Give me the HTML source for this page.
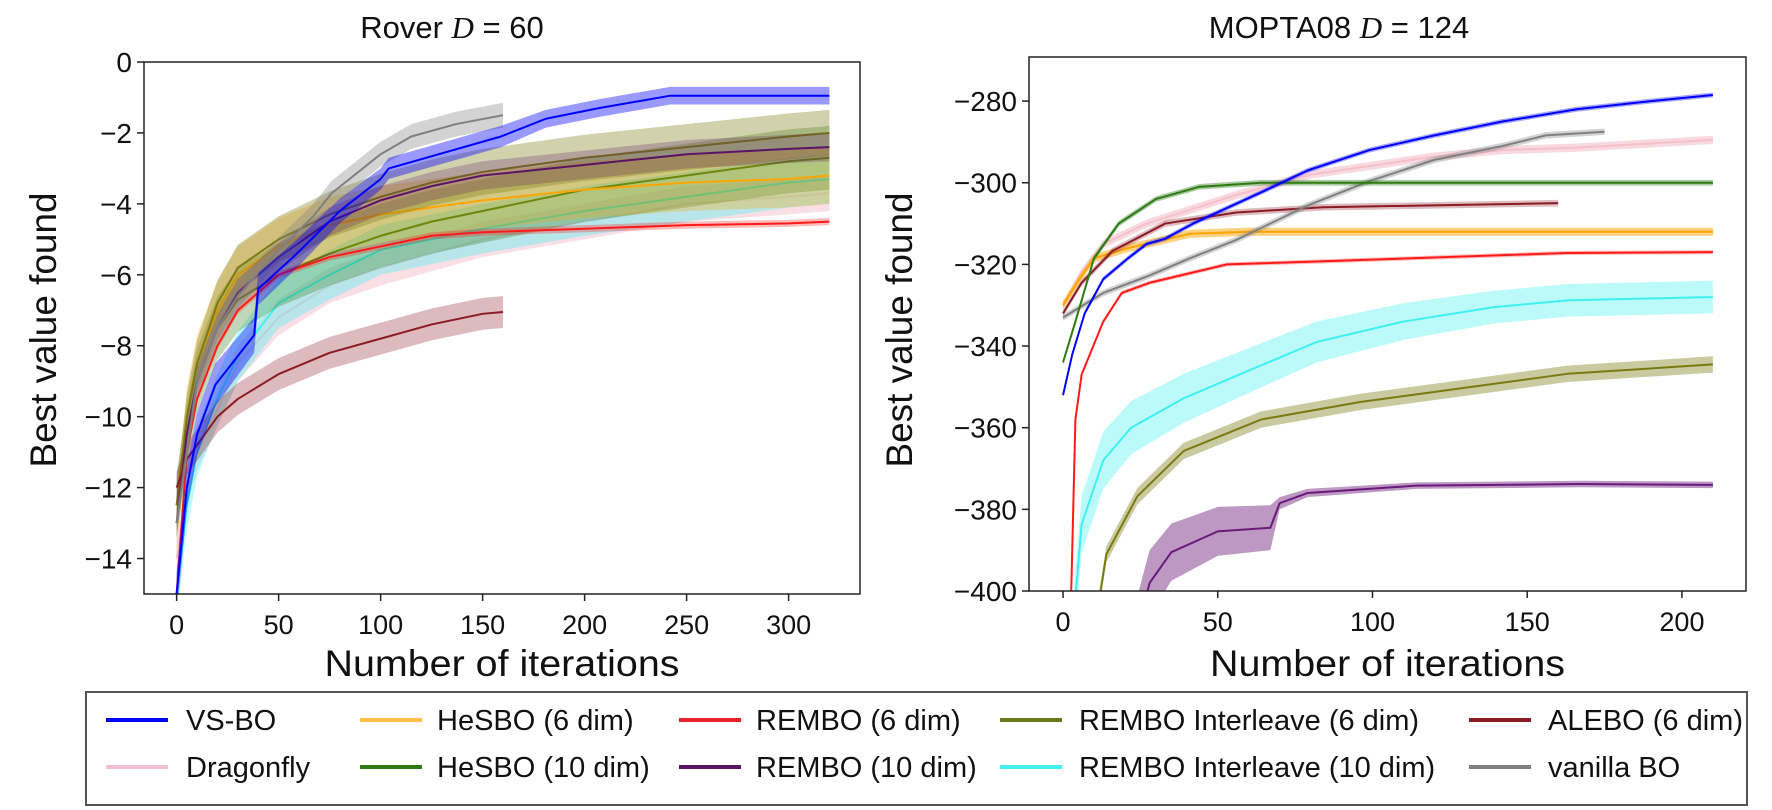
<!DOCTYPE html>
<html><head><meta charset="utf-8"><style>
body{margin:0;background:#fff;}
svg{display:block;font-family:"Liberation Sans",sans-serif;}
</style></head><body>
<svg id="chart" width="1772" height="810" viewBox="0 0 1772 810">
<defs>
<clipPath id="clipL"><rect x="144" y="62" width="716" height="532"/></clipPath>
<clipPath id="clipR"><rect x="1029" y="57" width="717" height="534"/></clipPath>
</defs>
<g id="left"></g>
<g id="right"></g>
<g>
<rect x="86" y="692" width="1661" height="113" fill="#fff" stroke="#555" stroke-width="2"/>
<g font-size="29" fill="#111">
<g><line x1="106" y1="720" x2="168" y2="720" stroke="#0000ff" stroke-width="4"/><text x="186" y="730">VS-BO</text></g>
<g><line x1="360" y1="720" x2="422" y2="720" stroke="#ffa500" stroke-width="4" opacity="0.7"/><text x="437" y="730">HeSBO (6 dim)</text></g>
<g><line x1="679" y1="720" x2="741" y2="720" stroke="#e8202a" stroke-width="4"/><text x="756" y="730">REMBO (6 dim)</text></g>
<g><line x1="1000" y1="720" x2="1062" y2="720" stroke="#6b7a1a" stroke-width="4"/><text x="1079" y="730">REMBO Interleave (6 dim)</text></g>
<g><line x1="1469" y1="720" x2="1531" y2="720" stroke="#8b1c24" stroke-width="4"/><text x="1548" y="730">ALEBO (6 dim)</text></g>
<g><line x1="106" y1="767" x2="168" y2="767" stroke="#f0c0cc" stroke-width="4"/><text x="186" y="777">Dragonfly</text></g>
<g><line x1="360" y1="767" x2="422" y2="767" stroke="#2e7a14" stroke-width="4"/><text x="437" y="777">HeSBO (10 dim)</text></g>
<g><line x1="679" y1="767" x2="741" y2="767" stroke="#5a1466" stroke-width="4"/><text x="756" y="777">REMBO (10 dim)</text></g>
<g><line x1="1000" y1="767" x2="1062" y2="767" stroke="#40f0f0" stroke-width="4"/><text x="1079" y="777">REMBO Interleave (10 dim)</text></g>
<g><line x1="1469" y1="767" x2="1531" y2="767" stroke="#808080" stroke-width="4"/><text x="1548" y="777">vanilla BO</text></g>
</g></g>
</svg>
<script>
// ---------- Rover data ----------
const roverXTicks = [0,50,100,150,200,250,300];
const roverYTicks = [0,-2,-4,-6,-8,-10,-12,-14];
const roverStdX = [0,5,10,20,30,50,75,100,125,150,200,250,300,320];
const roverShortX = [0,5,10,20,30,50,75,100,125,150,160];
const roverVsboX = [0,5,10,19,38,40,59,80,100,104,159,181,207,242,320];
const roverVsbo = [-15,-12,-10.5,-9.1,-7.7,-6.4,-5.4,-4.2,-3.3,-3.0,-2.1,-1.6,-1.3,-0.95,-0.95];
const roverVsboBand = [0.6,0.6,0.6,0.6,0.5,0.45,0.4,0.35,0.3,0.3,0.3,0.25,0.25,0.25,0.25];
const roverDragonfly = [-14,-12,-11,-9.8,-8.5,-7.2,-6.3,-5.8,-5.4,-5.0,-4.5,-4.0,-3.8,-3.7];
const roverCyan = [-15,-12.5,-11,-9.5,-8.3,-6.8,-6.0,-5.3,-5.0,-4.7,-4.2,-3.8,-3.4,-3.3];
const roverRed = [-15,-11,-9.5,-8,-7,-6.0,-5.5,-5.2,-4.9,-4.8,-4.7,-4.6,-4.55,-4.5];
const roverGreen = [-12.5,-10.5,-9,-7.5,-6.7,-6.0,-5.4,-4.9,-4.5,-4.2,-3.6,-3.2,-2.8,-2.7];
const roverOrange = [-13,-10,-8.5,-7,-6,-5.2,-4.6,-4.3,-4.1,-3.9,-3.6,-3.4,-3.3,-3.2];
const roverPurple = [-13,-10.5,-9,-7.5,-6.5,-5.5,-4.5,-3.9,-3.5,-3.2,-2.9,-2.6,-2.45,-2.4];
const roverOlive = [-12.5,-10,-8.5,-6.8,-5.8,-5.0,-4.3,-3.8,-3.4,-3.1,-2.7,-2.4,-2.1,-2.0];
const roverAlebo = [-12,-11.2,-10.8,-10.0,-9.5,-8.8,-8.2,-7.8,-7.4,-7.1,-7.05];
const roverGrayX = [0,10,20,30,50,67,76,100,115,137,160];
const roverGray = [-13,-9,-7.5,-6.6,-5.3,-4.35,-3.7,-2.6,-2.1,-1.75,-1.5];
// ---------- MOPTA data ----------
const moptaXTicks = [0,50,100,150,200];
const moptaYTicks = [-280,-300,-320,-340,-360,-380,-400];
const moptaBlueX = [0,3,7,13,21,27,33,42,65,79,99,120,142,166,190,210];
const moptaBlue = [-352,-342,-332,-323.6,-318.5,-315,-313.7,-310,-302,-297,-292,-288.4,-285,-282,-280,-278.5];
const moptaGreenX = [0,4,10,18,30,44,64,210];
const moptaGreen = [-344,-334,-318.5,-310,-304,-301,-300,-300];
const moptaRedX = [0,2,4,6,13,19,28,53,82,163,210];
const moptaRed = [-450,-420,-358,-347,-334,-327,-324.5,-320,-319.3,-317.2,-317];
const moptaOrangeX = [0,5,10,21,41,60,210];
const moptaOrange = [-330,-324,-318.5,-316,-312.5,-312,-312];
const moptaAleboX = [0,6,16,33,56,84,160];
const moptaAlebo = [-332,-324.5,-316.7,-310,-307.3,-306,-305];
const moptaPinkX = [0,6,13,27,56,80,120,142,166,210];
const moptaPink = [-330,-322,-315,-310,-303,-298,-293.6,-292,-291.4,-289.5];
const moptaGrayX = [0,13,27,41,56,79,99,120,142,156,175];
const moptaGray = [-333,-327,-323,-318.5,-314,-305.6,-299.6,-294.4,-291,-288.4,-287.5];
const moptaCyanX = [2,6,13,22,39,60,82,110,139,163,210];
const moptaCyan = [-420,-383.7,-368,-360,-352.8,-346,-339,-334,-330.5,-328.8,-328];
const moptaCyanBand = [7,7,7,6.5,6,5.5,5,4.5,4,4,4];
const moptaOliveX = [8,14,24,39,64,96,132,163,210];
const moptaOlive = [-420,-391,-376.8,-365.7,-358,-353.7,-350,-346.8,-344.5];
const moptaPurpleX = [22,28,35,50,67,70,79,114,167,210];
const moptaPurple = [-415,-398,-390.5,-385.4,-384.5,-378.5,-376,-374.2,-373.8,-374];
const moptaPurpleBand = [8,8,7,6,5.5,1.5,1,0.8,0.8,0.8];

const NS='http://www.w3.org/2000/svg';
function mk(tag,attrs,parent){const e=document.createElementNS(NS,tag);for(const k in attrs)e.setAttribute(k,attrs[k]);parent.appendChild(e);return e;}

function drawChart(g,cfg,series){
  const sx=v=>cfg.x0+(v-cfg.xmin)/(cfg.xmax-cfg.xmin)*(cfg.x1-cfg.x0);
  const sy=v=>cfg.y1-(v-cfg.ymin)/(cfg.ymax-cfg.ymin)*(cfg.y1-cfg.y0);
  const plot=mk('g',{'clip-path':'url(#'+cfg.clip+')'},g);
  series.forEach(s=>{
    const sg=mk('g',{},plot);
    
    
    const b=i=>Array.isArray(s.band)?s.band[i]:s.band;
    const up=s.x.map((x,i)=>sx(x)+','+sy(s.y[i]+b(i))).join(' ');
    const dn=s.x.map((x,i)=>sx(x)+','+sy(s.y[i]-b(i))).reverse().join(' ');
    const band=mk('polygon',{points:up+' '+dn,fill:s.fill||s.color,'fill-opacity':s.op||0.4,stroke:'none'},sg);
    
    
    const ln=mk('polyline',{points:s.x.map((x,i)=>sx(x)+','+sy(s.y[i])).join(' '),fill:'none',stroke:s.color,'stroke-width':s.w||2,'stroke-linejoin':'round'},sg);
    
    
  });
  const fr=mk('rect',{x:cfg.x0,y:cfg.y0,width:cfg.x1-cfg.x0,height:cfg.y1-cfg.y0,fill:'none',stroke:'#222','stroke-width':1.5},g);
  
  
  cfg.xt.forEach(t=>{
    const x=sx(t);
    mk('line',{x1:x,y1:cfg.y1,x2:x,y2:cfg.y1+7,stroke:'#222','stroke-width':1.5},g);
    const tx=mk('text',{x:x,y:cfg.y1+40,'font-size':27,'text-anchor':'middle',fill:'#111'},g);
    tx.textContent=String(t);
    
    
  });
  cfg.yt.forEach(t=>{
    const y=sy(t);
    mk('line',{x1:cfg.x0-7,y1:y,x2:cfg.x0,y2:y,stroke:'#222','stroke-width':1.5},g);
    const tx=mk('text',{x:cfg.x0-12,y:y+10,'font-size':28,'text-anchor':'end',fill:'#111'},g);
    tx.textContent=String(t).replace('-','\u2212');
    
    
  });
  const ti=mk('text',{x:cfg.tx,y:38,'font-size':31,'text-anchor':'middle',fill:'#111'},g);
  ti.innerHTML=cfg.title;
  
  
  const xl=mk('text',{x:(cfg.x0+cfg.x1)/2,y:676,'font-size':37,'text-anchor':'middle',fill:'#111',textLength:355,lengthAdjust:'spacingAndGlyphs'},g);
  xl.textContent='Number of iterations';
  
  
  const yl=mk('text',{x:0,y:0,'font-size':37,'text-anchor':'middle',fill:'#111',textLength:275,lengthAdjust:'spacingAndGlyphs',transform:'translate('+cfg.ylx+',330) rotate(-90)'},g);
  yl.textContent='Best value found';
  
  
}

drawChart(document.getElementById('left'),
 {x0:144,x1:860,y0:62,y1:594,xmin:-16,xmax:335,ymin:-15,ymax:0,xt:roverXTicks,yt:roverYTicks,clip:'clipL',tx:452,ylx:56,
  title:'Rover <tspan font-family="Liberation Serif" font-style="italic">D</tspan> = 60'},
 [
  {name:'dragonfly',x:roverStdX,y:roverDragonfly,band:0.5,color:'#f4c0cc',op:0.5},
  {name:'rembo-interleave10',x:roverStdX,y:roverCyan,band:0.7,color:'#40f0f0',op:0.35},
  {name:'hesbo10',x:roverStdX,y:roverGreen,band:0.9,color:'#2e7a14',op:0.3},
  {name:'hesbo6',x:roverStdX,y:roverOrange,band:0.8,color:'#ffa500',op:0.3},
  {name:'rembo-interleave6',x:roverStdX,y:roverOlive,band:0.65,color:'#7a7a14',op:0.35},
  {name:'rembo10',x:roverStdX,y:roverPurple,band:0.4,color:'#5a1466',op:0.25},
  {name:'rembo6',x:roverStdX,y:roverRed,band:0.1,color:'#ff1a1a',op:0.3},
  {name:'alebo6',x:roverShortX,y:roverAlebo,band:0.45,color:'#8b1c24',op:0.3},
  {name:'vanilla-bo',x:roverGrayX,y:roverGray,band:0.35,color:'#808080',op:0.35},
  {name:'vsbo',x:roverVsboX,y:roverVsbo,band:roverVsboBand,color:'#0000ff',op:0.4}
 ]);

drawChart(document.getElementById('right'),
 {x0:1029,x1:1746,y0:57,y1:591,xmin:-11,xmax:220.7,ymin:-400,ymax:-269.2,xt:moptaXTicks,yt:moptaYTicks,clip:'clipR',tx:1339,ylx:912,
  title:'MOPTA08 <tspan font-family="Liberation Serif" font-style="italic">D</tspan> = 124'},
 [
  {name:'rembo-interleave10',x:moptaCyanX,y:moptaCyan,band:moptaCyanBand,color:'#40f0f0',op:0.35},
  {name:'rembo-interleave6',x:moptaOliveX,y:moptaOlive,band:2,color:'#7a7a14',op:0.4},
  {name:'rembo10',x:moptaPurpleX,y:moptaPurple,band:moptaPurpleBand,color:'#6a1a7a',op:0.45},
  {name:'dragonfly',x:moptaPinkX,y:moptaPink,band:1,color:'#f4c0cc',op:0.6},
  {name:'rembo6',x:moptaRedX,y:moptaRed,band:0.5,color:'#ff1a1a',op:0.3},
  {name:'hesbo6',x:moptaOrangeX,y:moptaOrange,band:1,color:'#ffa500',op:0.5},
  {name:'alebo6',x:moptaAleboX,y:moptaAlebo,band:0.8,color:'#8b1c24',op:0.3},
  {name:'vanilla-bo',x:moptaGrayX,y:moptaGray,band:0.8,color:'#808080',op:0.35},
  {name:'hesbo10',x:moptaGreenX,y:moptaGreen,band:0.7,color:'#2e7a14',op:0.4},
  {name:'vsbo',x:moptaBlueX,y:moptaBlue,band:0.6,color:'#0000ff',op:0.35}
 ]);
</script>
</body></html>
